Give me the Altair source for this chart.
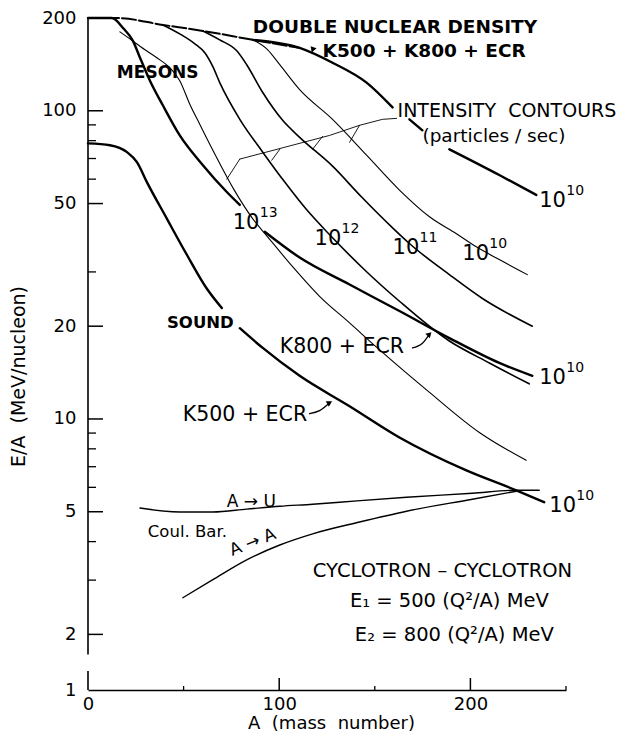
import altair as alt
import pandas as pd

FONT = "DejaVu Sans"
NB = "\u00a0"

# ---------------- data: A (mass number), E/A (MeV/nucleon) ----------------
# None marks a break in a curve (where a label sits on it)
dnd_A = [0, 15.1, 39.2, 60.1, 86.2, 110.7]
dnd_E = [200, 200, 189.9, 181.6, 169.9, 160.0]

k3_A = [86.2, 110.7, 127.9, 145.7, 159.3, None, 168.1, 174.9, None, 189.0, 215.1, 234.5]
k3_E = [169.9, 160.0, 143.2, 123.4, 102.5, None, 93.8, 86.4, None, 75.0, 61.9, 53.3]

k800_A = [0, 12.5, 18.3, 23.5, 27.2, 32.4, 39.2, 48.0, 60.1, 72.6, 79.4, None,
          92.4, 110.7, 136.8, 162.9, 189.0, 215.1, 232.4]
k800_E = [200, 200, 185.7, 168.6, 148.6, 125.2, 104.0, 83.2, 66.6, 54.5, 49.5, None,
          40.5, 33.4, 27.3, 22.4, 18.3, 15.2, 13.8]

k500_A = [0, 11.5, 20.4, 25.6, 30.8, 41.3, 51.7, 62.1, 70.0, None,
          79.4, 91.4, 110.7, 136.8, 162.9, 197.9, 224.0, 238.6]
k500_E = [78.4, 77.3, 73.4, 68.1, 58.7, 44.6, 34.1, 26.5, 22.9, None,
          19.7, 17.0, 13.8, 11.0, 8.71, 6.81, 5.87, 5.37]

c13_A = [16.7, 21.9, 29.8, 36.0, 42.8, 48.0, 53.3, 58.5, 65.3, 76.2, 86.2, 93.5,
         107.0, 121.1, 136.8, 150.9, 178.6, 204.7, 229.2]
c13_E = [180.3, 171.1, 157.7, 148.6, 137.9, 125.2, 104.8, 90.3, 74.5, 55.7, 44.6, 39.3,
         31.2, 25.0, 20.5, 17.1, 12.2, 9.04, 7.34]

c12_A = [39.2, 48.0, 55.9, 61.1, 65.3, 68.9, 79.4, 91.4, 102.9, 114.4, 126.4, 144.6,
         162.9, 189.0, 209.9, 230.8]
c12_E = [189.9, 177.6, 164.9, 154.2, 139.0, 123.4, 93.8, 73.4, 58.7, 47.7, 39.6, 30.5,
         24.1, 17.9, 15.2, 13.0]

c11_A = [60.1, 68.9, 77.8, 83.0, 91.4, 101.8, 110.7, 127.9, 143.1, 159.3, 168.1, 189.0, 206.3, 232.4]
c11_E = [181.6, 169.9, 156.5, 141.1, 114.6, 93.1, 82.0, 66.1, 52.5, 41.7, 37.1, 29.4, 24.6, 20.0]

c10_A = [86.2, 94.0, 100.3, 110.7, 127.9, 145.7, 162.9, 178.6, 192.7, 203.1, 215.1, 229.8]
c10_E = [169.9, 157.7, 141.1, 117.1, 93.8, 71.8, 55.3, 45.3, 39.9, 36.2, 32.9, 29.4]

coulAU_A = [27.2, 48.0, 65.3, 83.0, 100.3, 117.5, 131.6, 166.6, 201.0, 224.0, 236.0]
coulAU_E = [5.14, 4.99, 4.99, 5.10, 5.21, 5.29, 5.37, 5.57, 5.74, 5.87, 5.87]

coulAA_A = [49.6, 65.3, 83.0, 100.3, 117.5, 142.0, 166.6, 201.0, 224.0]
coulAA_E = [2.63, 3.01, 3.49, 3.90, 4.24, 4.63, 5.02, 5.49, 5.83]

# leader from "INTENSITY CONTOURS" and its little pointers to each contour
leader_A = [79.4, 126.4, 142.0, 154.0, 161.4]
leader_E = [69.7, 83.2, 89.7, 93.8, 94.5]
ptr_A = [72.6, 79.4, None, 96.1, 100.3, None, 117.5, 122.7, None, 136.8, 142.0]
ptr_E = [60.0, 69.7, None, 69.1, 75.0, None, 75.0, 82.6, None, 79.0, 89.7]

# small arrows from labels
arr800_A = [169.7, 174.9, 178.6]
arr800_E = [17.0, 17.6, 18.85]
arr500_A = [115.9, 121.1, 126.4]
arr500_E = [10.40, 10.64, 11.29]
heads_A = [117.5, 178.6, 126.4]
heads_E = [157.7, 18.85, 11.29]
heads_angle = [200, 45, 60]

# axis values
y_major = [200, 100, 50, 20, 10, 5, 2]
y_minor = [90, 80, 70, 60, 30, 9, 8, 7, 6, 4, 3]
y_labels = [1.32, 2, 5, 10, 20, 50, 100, 200]
x_labels = [0, 100, 200]

# text labels
bold_text = ["DOUBLE NUCLEAR DENSITY", "K500 + K800 + ECR", "MESONS", "SOUND"]
bold_A = [86.2, 122.7, 15.1, 41.3]
bold_E = [178.9, 149.7, 128.1, 19.7]
bold_size = [18.5, 18.5, 17, 16.5]

plain_text = ["INTENSITY" + NB + NB + "CONTOURS", "(particles / sec)", "K800 + ECR", "K500 + ECR",
              "A → U", "Coul. Bar."]
plain_A = [161.9, 174.9, 100.3, 49.6, 72.6, 31.3]
plain_E = [95.2, 79.0, 16.4, 9.88, 5.17, 4.14]
plain_size = [19, 18.5, 20.5, 20.5, 17, 16.5]

center_text = ["CYCLOTRON – CYCLOTRON", "E₁ = 500 (Q²/A) MeV", "E₂ = 800 (Q²/A) MeV", "A → A"]
center_A = [185.4, 189.0, 191.6, 87.2]
center_E = [3.08, 2.46, 1.91, 3.84]
center_size = [19.5, 19.5, 19.5, 17]
center_angle = [0, 0, 0, 338]

pow_A = [75.7, 118.5, 159.3, 195.8, 236.0, 236.0, 241.3]
pow_E = [41.4, 36.8, 34.4, 32.9, 48.75, 13.0, 4.99]
pow_exp = ["13", "12", "11", "10", "10", "10", "10"]

x_title = "A" + NB + NB + "(mass" + NB + NB + "number)"
y_title = "E/A" + NB + NB + "(MeV/nucleon)"

# ---------------- build ----------------
W, H = 478, 672
xs = alt.Scale(domain=[0, 250], nice=False, zero=False)
ys = alt.Scale(type="log", domain=[1.32, 200], nice=False)

x_axis = alt.Axis(
    values=x_labels, grid=False, ticks=False, tickSize=0, domain=True,
    domainColor="black", domainWidth=1.6, labelPadding=5, labelFlush=False,
    labelFont=FONT, labelFontSize=18, labelColor="black",
    title=x_title, titleFont=FONT, titleFontSize=18,
    titleFontWeight="normal", titleColor="black",
    titleX=243, titleY=33, titleAlign="center", titleBaseline="middle")
y_axis = alt.Axis(
    values=y_labels, grid=False, ticks=False, tickSize=0, domain=False,
    labelPadding=12, labelOverlap=False, labelFlush=False,
    labelExpr="datum.value < 1.5 ? '1' : format(datum.value, 'd')",
    labelFont=FONT, labelFontSize=18, labelColor="black",
    title=y_title, titleFont=FONT, titleFontSize=19,
    titleFontWeight="normal", titleColor="black", titleAngle=270,
    titleX=-70, titleY=358, titleAlign="center", titleBaseline="middle")


def curve_df(name, A, E):
    rows, seg = [], 0
    for i, (a, e) in enumerate(zip(A, E)):
        if a is None:
            seg += 1
            continue
        rows.append({"curve": name, "key": f"{name}-{seg}", "i": i, "A": a, "E": e})
    return pd.DataFrame(rows)


X = alt.X("A:Q", scale=xs, axis=x_axis)
Y = alt.Y("E:Q", scale=ys, axis=y_axis)


def lines(df, width, dash=None, interp="monotone"):
    kw = dict(color="black", strokeWidth=width, interpolate=interp,
              strokeCap="round", strokeJoin="round")
    if dash:
        kw["strokeDash"] = dash
    return alt.Chart(df).mark_line(**kw).encode(
        x=X, y=Y, detail="key:N", order="i:Q")


layers = []

# y axis line (broken near the bottom) and inward ticks
layers.append(
    alt.Chart(pd.DataFrame({"E": [1.72], "E2": [200]})).mark_rule(
        color="black", strokeWidth=1.6).encode(x=alt.value(0), y=Y, y2="E2:Q"))
layers.append(
    alt.Chart(pd.DataFrame({"E": y_major})).mark_rule(color="black", strokeWidth=1.5).encode(
        y=Y, x=alt.value(0), x2=alt.value(15)))
layers.append(
    alt.Chart(pd.DataFrame({"E": y_minor})).mark_rule(color="black", strokeWidth=1.3).encode(
        y=Y, x=alt.value(0), x2=alt.value(8)))
# x axis inward ticks
layers.append(
    alt.Chart(pd.DataFrame({"A": [0]})).mark_rule(color="black", strokeWidth=1.6).encode(
        x=X, y=alt.value(H), y2=alt.value(H - 19)))
layers.append(
    alt.Chart(pd.DataFrame({"A": [100, 200]})).mark_rule(color="black", strokeWidth=1.5).encode(
        x=X, y=alt.value(H), y2=alt.value(H - 12)))
layers.append(
    alt.Chart(pd.DataFrame({"A": [50, 150, 250]})).mark_rule(color="black", strokeWidth=1.3).encode(
        x=X, y=alt.value(H), y2=alt.value(H - 4)))

# curves
layers.append(lines(curve_df("dnd", dnd_A, dnd_E), 2.0, dash=[14, 3]))
layers.append(lines(pd.concat([curve_df("k3", k3_A, k3_E),
                               curve_df("k800", k800_A, k800_E),
                               curve_df("k500", k500_A, k500_E)]), 2.4))
layers.append(lines(pd.concat([curve_df("c12", c12_A, c12_E),
                               curve_df("c11", c11_A, c11_E)]), 1.6))
layers.append(lines(pd.concat([curve_df("c13", c13_A, c13_E),
                               curve_df("c10", c10_A, c10_E)]), 1.1))
layers.append(lines(pd.concat([curve_df("au", coulAU_A, coulAU_E),
                               curve_df("aa", coulAA_A, coulAA_E)]), 1.4))
layers.append(lines(pd.concat([curve_df("ldr", leader_A, leader_E),
                               curve_df("ptr", ptr_A, ptr_E)]), 0.9, interp="linear"))
layers.append(lines(pd.concat([curve_df("a800", arr800_A, arr800_E),
                               curve_df("a500", arr500_A, arr500_E)]), 1.3))
layers.append(
    alt.Chart(pd.DataFrame({"A": heads_A, "E": heads_E, "ang": heads_angle}))
    .mark_point(shape="triangle-up", filled=True, color="black", opacity=1, size=40)
    .encode(x=X, y=Y, angle=alt.Angle("ang:Q", scale=None)))

# text
bold_df = pd.DataFrame({"t": bold_text, "A": bold_A, "E": bold_E, "s": bold_size})
layers.append(alt.Chart(bold_df).mark_text(
    font=FONT, fontWeight="bold", align="left", baseline="alphabetic", color="black").encode(
    x=X, y=Y, text="t:N", size=alt.Size("s:Q", scale=None)))

plain_df = pd.DataFrame({"t": plain_text, "A": plain_A, "E": plain_E, "s": plain_size})
layers.append(alt.Chart(plain_df).mark_text(
    font=FONT, align="left", baseline="alphabetic", color="black").encode(
    x=X, y=Y, text="t:N", size=alt.Size("s:Q", scale=None)))

center_df = pd.DataFrame({"t": center_text, "A": center_A, "E": center_E,
                          "s": center_size, "ang": center_angle})
layers.append(alt.Chart(center_df).mark_text(
    font=FONT, align="center", baseline="alphabetic", color="black").encode(
    x=X, y=Y, text="t:N", size=alt.Size("s:Q", scale=None),
    angle=alt.Angle("ang:Q", scale=None)))

pow_df = pd.DataFrame({"A": pow_A, "E": pow_E, "exp": pow_exp, "base": ["10"] * len(pow_A)})
layers.append(alt.Chart(pow_df).mark_text(
    font=FONT, fontSize=21, align="left", baseline="alphabetic", color="black").encode(
    x=X, y=Y, text="base:N"))
layers.append(alt.Chart(pow_df).mark_text(
    font=FONT, fontSize=14, align="left", baseline="alphabetic", color="black",
    dx=27, dy=-12).encode(x=X, y=Y, text="exp:N"))

chart = alt.layer(*layers).properties(
    width=W, height=H,
    autosize=alt.AutoSizeParams(type="none"),
    padding={"left": 80, "top": 10, "right": 62, "bottom": 43},
    background="white",
).configure_view(stroke=None)

chart.save("out.html", embed_options={"renderer": "svg", "actions": False})
